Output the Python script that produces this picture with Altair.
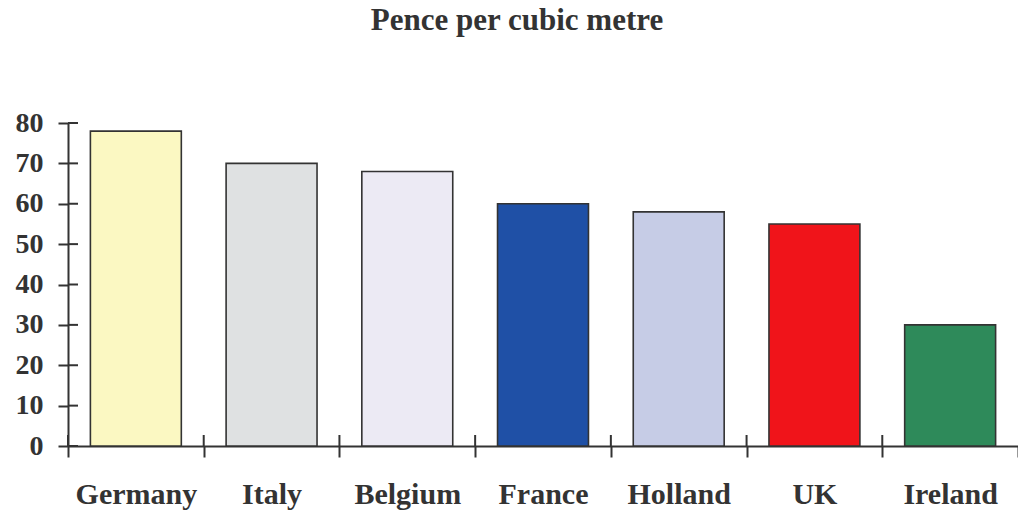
import altair as alt
import pandas as pd

countries = ["Germany", "Italy", "Belgium", "France", "Holland", "UK", "Ireland"]
pence = [78, 70, 68, 60, 58, 55, 30]
colors = ["#fbf8c2", "#dfe1e2", "#ecEAf4", "#1f50a6", "#c6cce6", "#f0141a", "#2e8a5a"]
y_ticks = [0, 10, 20, 30, 40, 50, 60, 70, 80]

df = pd.DataFrame({"country": countries, "pence": pence, "color": colors})
tick_df = pd.DataFrame({"v": y_ticks})

FONT = "Liberation Serif"
INK = "#333333"

x_axis = alt.Axis(title=None, labelFont=FONT, labelFontSize=30, labelFontWeight="bold",
                  labelColor=INK, labelPadding=22, labelAngle=0, labelBaseline="top",
                  tickBand="extent", tickSize=11, tickColor=INK, tickWidth=2,
                  domainColor=INK, domainWidth=2, grid=False)
y_axis = alt.Axis(title=None, values=y_ticks, labelFont=FONT, labelFontSize=28,
                  labelFontWeight="bold", labelColor=INK, labelPadding=15,
                  tickSize=10, tickColor=INK, tickWidth=2, grid=False,
                  domainColor=INK, domainWidth=2)
x_scale = alt.Scale(paddingInner=0, paddingOuter=0)
y_scale = alt.Scale(domain=[0, 80], nice=False)

bars = alt.Chart(df).mark_bar(stroke=INK, strokeWidth=1.6,
                              width=alt.RelativeBandSize(0.67)).encode(
    x=alt.X("country:N", sort=countries, scale=x_scale, axis=x_axis),
    y=alt.Y("pence:Q", scale=y_scale, axis=y_axis),
    color=alt.Color("color:N", scale=None),
)

# inward halves of the crossing y ticks
inner_y = alt.Chart(tick_df).mark_rule(color=INK, strokeWidth=2).encode(
    y=alt.Y("v:Q", scale=y_scale, axis=y_axis),
    x=alt.value(0), x2=alt.value(10),
)

# inward halves of the crossing x ticks at band boundaries
inner_x = alt.Chart(df).mark_rule(color=INK, strokeWidth=2).encode(
    x=alt.X("country:N", sort=countries, scale=x_scale, bandPosition=0, axis=x_axis),
    y=alt.value(312), y2=alt.value(323),
)

chart = alt.layer(bars, inner_y, inner_x).properties(
    width=950, height=323,
    padding={"left": 68, "top": 123, "right": 0, "bottom": 68},
    autosize=alt.AutoSizeParams(type="none"),
    title=alt.TitleParams("Pence per cubic metre", font=FONT, fontSize=31, fontWeight="bold",
                          color=INK, anchor="middle", frame="group", dx=-26,
                          baseline="alphabetic", offset=48),
).configure(background="white", view=alt.ViewConfig(stroke=None))

chart.save("out.html", embed_options={"renderer": "svg", "actions": False})
